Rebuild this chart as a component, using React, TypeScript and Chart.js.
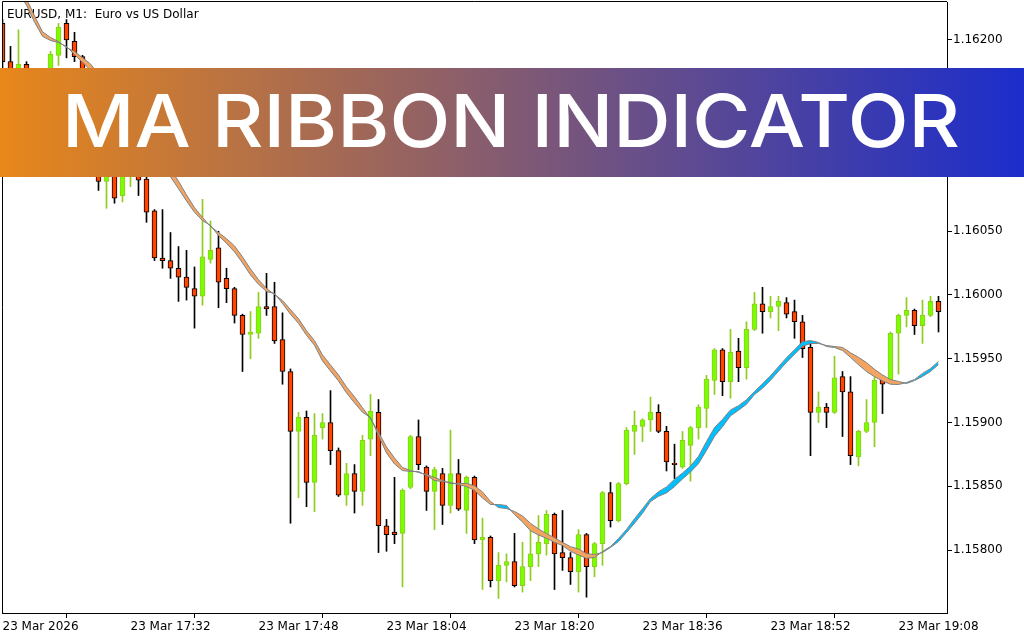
import React, { useEffect, useRef } from "react";
import { Chart, registerables } from "chart.js";

Chart.register(...registerables);

// ---- data (EURUSD M1, 23 Mar 2026 17:16 .. 19:13) ----
const chartTitle = "EURUSD, M1:  Euro vs US Dollar";
const bannerText = "MA RIBBON INDICATOR";

const xTickIndex = [0, 16, 32, 48, 64, 80, 96, 112];
const xTickLabels = [
  "23 Mar 2026",
  "23 Mar 17:32",
  "23 Mar 17:48",
  "23 Mar 18:04",
  "23 Mar 18:20",
  "23 Mar 18:36",
  "23 Mar 18:52",
  "23 Mar 19:08",
];
const yTicks = [1.158, 1.1585, 1.159, 1.1595, 1.16, 1.1605, 1.161, 1.1615, 1.162];

const openP = [
  1.16213, 1.16183, 1.16161, 1.16181, 1.16157, 1.16137, 1.16155, 1.16188, 1.16213, 1.16199,
  1.16187, 1.16165, 1.16129, 1.16089, 1.1611, 1.16078, 1.16094, 1.16114, 1.16091, 1.16066,
  1.16029, 1.16027, 1.16021, 1.16014, 1.16005, 1.15999, 1.16028, 1.16037, 1.16013, 1.16005,
  1.15984, 1.15969, 1.1597, 1.15991, 1.15991, 1.15965, 1.1594, 1.15893, 1.15904, 1.15853,
  1.15896, 1.159, 1.15878, 1.15843, 1.1586, 1.15846, 1.15887, 1.15908, 1.15819, 1.15814,
  1.15813, 1.15849, 1.15889, 1.15865, 1.15846, 1.1586, 1.15835, 1.1586, 1.15831, 1.15857,
  1.15808, 1.1581, 1.15776, 1.15788, 1.15791, 1.15772, 1.15787, 1.15797, 1.15805, 1.15828,
  1.15798, 1.15794, 1.15783, 1.15812, 1.15787, 1.15805, 1.15845, 1.15823, 1.15852, 1.15893,
  1.15897, 1.15902, 1.15908, 1.15893, 1.15868, 1.15865, 1.15882, 1.15896, 1.15911, 1.15933,
  1.15957, 1.15932, 1.15956, 1.15943, 1.15973, 1.15993, 1.15987, 1.15991, 1.15994, 1.15987,
  1.15979, 1.15959, 1.15908, 1.15912, 1.15908, 1.15936, 1.15924, 1.15873, 1.15893, 1.159,
  1.15933, 1.15933, 1.1597, 1.15984, 1.15988, 1.15976, 1.15984, 1.15995,
];
const highP = [
  1.16216, 1.16195, 1.16208, 1.16183, 1.16162, 1.16157, 1.16191, 1.16213, 1.16216, 1.16206,
  1.16188, 1.16169, 1.16133, 1.16118, 1.16115, 1.16114, 1.16122, 1.16118, 1.16098, 1.16067,
  1.16067, 1.16049, 1.16038, 1.16035, 1.16022, 1.16075, 1.16058, 1.1605, 1.16021, 1.16006,
  1.15985, 1.15987, 1.16002, 1.16017, 1.1601, 1.15986, 1.15942, 1.15908, 1.15909, 1.15907,
  1.15907, 1.15925, 1.1588, 1.15868, 1.15867, 1.1589, 1.15922, 1.15918, 1.15824, 1.15857,
  1.15848, 1.1589, 1.15902, 1.15866, 1.15865, 1.15864, 1.15894, 1.15871, 1.15858, 1.15858,
  1.15825, 1.15811, 1.15798, 1.15797, 1.15813, 1.15806, 1.15816, 1.15827, 1.15831, 1.15829,
  1.15831, 1.15798, 1.15816, 1.15813, 1.15806, 1.15846, 1.15853, 1.15853, 1.15896, 1.15909,
  1.15903, 1.1592, 1.15914, 1.15897, 1.15883, 1.15893, 1.15897, 1.15914, 1.15937, 1.15958,
  1.15958, 1.15973, 1.15966, 1.15979, 1.16002, 1.16006, 1.15999, 1.15999, 1.15998, 1.15996,
  1.15984, 1.15962, 1.15924, 1.15915, 1.15952, 1.1594, 1.15936, 1.15894, 1.15918, 1.15936,
  1.15937, 1.15971, 1.15985, 1.15998, 1.15989, 1.15996, 1.15999, 1.15999,
];
const lowP = [
  1.16178, 1.16157, 1.16155, 1.16153, 1.16133, 1.16133, 1.1615, 1.1618, 1.16186, 1.16183,
  1.16159, 1.16123, 1.16082, 1.16068, 1.16072, 1.16073, 1.16085, 1.16078, 1.16057, 1.16027,
  1.16021, 1.16013, 1.15995, 1.15996, 1.15974, 1.15992, 1.16025, 1.1599, 1.15994, 1.15978,
  1.1594, 1.1595, 1.15966, 1.15984, 1.15962, 1.1593, 1.15821, 1.15841, 1.15834, 1.1583,
  1.15887, 1.15867, 1.15842, 1.15835, 1.15829, 1.15835, 1.15874, 1.15798, 1.15799, 1.15805,
  1.15771, 1.15848, 1.15863, 1.15831, 1.15816, 1.1582, 1.15829, 1.15831, 1.15813, 1.15805,
  1.15769, 1.15771, 1.15762, 1.15775, 1.15771, 1.15767, 1.15776, 1.15787, 1.15796, 1.15769,
  1.15784, 1.15773, 1.15767, 1.15763, 1.15779, 1.15788, 1.15818, 1.15822, 1.15851, 1.15875,
  1.15885, 1.15893, 1.15892, 1.15862, 1.15856, 1.15864, 1.15854, 1.15887, 1.15896, 1.15922,
  1.15921, 1.15919, 1.15932, 1.15934, 1.15972, 1.1597, 1.15982, 1.15972, 1.15982, 1.15966,
  1.15951, 1.15874, 1.159, 1.15896, 1.15907, 1.15889, 1.15867, 1.15866, 1.15892, 1.15881,
  1.15907, 1.15932, 1.15938, 1.15975, 1.15969, 1.15962, 1.15983, 1.15971,
];
const closeP = [
  1.16183, 1.16165, 1.16181, 1.16162, 1.16137, 1.16153, 1.16189, 1.1621, 1.162, 1.16187,
  1.16165, 1.16129, 1.16089, 1.16114, 1.16076, 1.16106, 1.16114, 1.1609, 1.16065, 1.16029,
  1.16027, 1.16021, 1.16014, 1.16006, 1.15999, 1.1603, 1.16035, 1.1601, 1.16005, 1.15984,
  1.15969, 1.15971, 1.15991, 1.15989, 1.15964, 1.1594, 1.15893, 1.15904, 1.15853, 1.1589,
  1.159, 1.15878, 1.15843, 1.1586, 1.15846, 1.15886, 1.15909, 1.15819, 1.15812, 1.15812,
  1.15847, 1.15889, 1.15867, 1.15846, 1.15863, 1.15835, 1.1586, 1.15832, 1.15857, 1.15808,
  1.1581, 1.15776, 1.15788, 1.15791, 1.15772, 1.15787, 1.15797, 1.15806, 1.15828, 1.15797,
  1.15794, 1.15783, 1.15812, 1.15787, 1.15805, 1.15845, 1.15823, 1.15852, 1.15894, 1.15898,
  1.15902, 1.15908, 1.15893, 1.15869, 1.15867, 1.15886, 1.15896, 1.15912, 1.15934, 1.15957,
  1.15932, 1.15955, 1.15943, 1.15973, 1.15993, 1.15987, 1.15991, 1.15995, 1.15985, 1.15979,
  1.15958, 1.15908, 1.15912, 1.15908, 1.15935, 1.15924, 1.15874, 1.15893, 1.159, 1.15933,
  1.1593, 1.1597, 1.15984, 1.15988, 1.15976, 1.15984, 1.15995, 1.15987,
];
const maFast = [
  1.162564, 1.162462, 1.162368, 1.162274, 1.162141, 1.162029, 1.161996, 1.16198, 1.161949, 1.161886,
  1.161825, 1.161764, 1.161673, 1.161587, 1.161508, 1.161422, 1.161344, 1.161265, 1.161179, 1.1611,
  1.161014, 1.160928, 1.160834, 1.160738, 1.160649, 1.160584, 1.160545, 1.160466, 1.160406, 1.160338,
  1.160252, 1.160157, 1.160084, 1.160027, 1.160012, 1.159933, 1.159849, 1.159778, 1.159684, 1.159606,
  1.159483, 1.159404, 1.159326, 1.159232, 1.159154, 1.15908, 1.159039, 1.158898, 1.158761, 1.158675,
  1.158623, 1.158616, 1.158616, 1.158584, 1.158545, 1.158537, 1.15853, 1.158514, 1.158498, 1.158468,
  1.158408, 1.158357, 1.158357, 1.158349, 1.158278, 1.15822, 1.158151, 1.158118, 1.158092, 1.15806,
  1.158035, 1.15799, 1.157961, 1.157935, 1.157941, 1.157988, 1.158028, 1.15809, 1.158161, 1.158246,
  1.158324, 1.158404, 1.158457, 1.158495, 1.158555, 1.158604, 1.158659, 1.158735, 1.158851, 1.158961,
  1.159025, 1.159099, 1.159132, 1.159179, 1.159243, 1.159304, 1.159367, 1.159438, 1.159508, 1.159571,
  1.159634, 1.159643, 1.159628, 1.159596, 1.159588, 1.159565, 1.159511, 1.159453, 1.1594, 1.159359,
  1.159326, 1.1593, 1.159298, 1.159314, 1.159337, 1.159385, 1.159424, 1.159479,
];
const maSlow = [
  1.162612, 1.16251, 1.162416, 1.162322, 1.162189, 1.162065, 1.16202, 1.161988, 1.161941, 1.16191,
  1.161861, 1.161812, 1.161731, 1.161645, 1.161566, 1.16148, 1.161402, 1.161323, 1.161237, 1.161158,
  1.161072, 1.160986, 1.160892, 1.160785, 1.160685, 1.160608, 1.160537, 1.16049, 1.160442, 1.160385,
  1.160299, 1.160204, 1.16012, 1.160051, 1.160004, 1.159957, 1.159885, 1.159814, 1.15972, 1.159642,
  1.15953, 1.159451, 1.159373, 1.159279, 1.159201, 1.159116, 1.159031, 1.158922, 1.158808, 1.158722,
  1.158647, 1.158624, 1.158608, 1.158592, 1.158569, 1.158545, 1.158522, 1.158522, 1.158522, 1.158504,
  1.158455, 1.158381, 1.158333, 1.158325, 1.158302, 1.158267, 1.158209, 1.158165, 1.158128, 1.158096,
  1.158059, 1.158026, 1.158008, 1.157971, 1.157965, 1.15798, 1.15802, 1.158066, 1.158137, 1.15821,
  1.158288, 1.15838, 1.158421, 1.158448, 1.158497, 1.158557, 1.158612, 1.158677, 1.158781, 1.158891,
  1.158967, 1.159052, 1.159096, 1.159143, 1.159219, 1.159268, 1.159331, 1.159402, 1.159472, 1.159535,
  1.159598, 1.159619, 1.15962, 1.159604, 1.159596, 1.159589, 1.159547, 1.159511, 1.15947, 1.159417,
  1.159373, 1.159336, 1.159322, 1.159306, 1.159329, 1.159361, 1.1594, 1.159455,
];

// ---- styles ----
const UP_FILL = "#7CFC00";
const UP_LINE = "#8FCC1E";
const DOWN_FILL = "#FF4500";
const DOWN_LINE = "#000000";
const RIBBON_UP = "#00BFFF";
const RIBBON_DOWN = "#F4A460";
const RIBBON_EDGE = "#808080";
const AXIS_FONT = { family: "'DejaVu Sans', sans-serif", size: 12 };

const overlayPlugin = {
  id: "mtOverlay",
  beforeDatasetsDraw(chart: any) {
    const { ctx } = chart;
    ctx.save();
    ctx.fillStyle = "#000";
    ctx.font = "12px 'DejaVu Sans', sans-serif";
    ctx.textBaseline = "alphabetic";
    ctx.textAlign = "left";
    ctx.fillText(chartTitle, 7, 18);
    ctx.restore();
  },
  afterDraw(chart: any) {
    const { ctx, chartArea } = chart;
    const W = chart.width;
    ctx.save();
    // frame (left + top edges; right/bottom come from the axes)
    ctx.strokeStyle = "#000";
    ctx.lineWidth = 1;
    ctx.beginPath();
    ctx.moveTo(chartArea.left + 0.5, chartArea.bottom);
    ctx.lineTo(chartArea.left + 0.5, chartArea.top - 0.5);
    ctx.lineTo(chartArea.right, chartArea.top - 0.5);
    ctx.stroke();

    // banner
    const top = 68;
    const h = 109;
    const g = ctx.createLinearGradient(0, 0, W, 0);
    g.addColorStop(0, "#E8871A");
    g.addColorStop(1, "#1B2DCB");
    ctx.fillStyle = g;
    ctx.fillRect(0, top, W, h);

    ctx.font = "500 73px Inter, 'Open Sans', sans-serif";
    ctx.textBaseline = "alphabetic";
    ctx.textAlign = "left";
    const tw = ctx.measureText(bannerText).width;
    const target = 898;
    const sx = target / tw;
    ctx.translate(62, 147);
    ctx.scale(sx, 1);
    ctx.fillStyle = "#FFFFFF";
    ctx.fillText(bannerText, 0, 0);
    ctx.restore();
  },
};

export default function App() {
  const ref = useRef<HTMLCanvasElement | null>(null);

  useEffect(() => {
    if (!ref.current) return;
    const idx = openP.map((_, i) => i);
    const up = idx.map((i) => closeP[i] >= openP[i]);

    const chart = new Chart(ref.current, {
      type: "bar",
      data: {
        datasets: [
          {
            type: "line",
            label: "fast",
            data: idx.map((i) => ({ x: i, y: maFast[i] })),
            borderColor: RIBBON_EDGE,
            borderWidth: 1,
            pointRadius: 0,
            tension: 0,
            fill: false,
            order: 0,
          } as any,
          {
            type: "line",
            label: "slow",
            data: idx.map((i) => ({ x: i, y: maSlow[i] })),
            borderColor: RIBBON_EDGE,
            borderWidth: 1,
            pointRadius: 0,
            tension: 0,
            fill: { target: 0, above: RIBBON_DOWN, below: RIBBON_UP },
            order: 0,
          } as any,
          {
            type: "bar",
            label: "body",
            data: idx.map((i) => ({ x: i, y: [openP[i], closeP[i]] })),
            backgroundColor: up.map((u) => (u ? UP_FILL : DOWN_FILL)),
            borderColor: up.map((u) => (u ? UP_LINE : DOWN_LINE)),
            borderWidth: 1,
            borderSkipped: false,
            barThickness: 5,
            grouped: false,
            order: 1,
          } as any,
          {
            type: "bar",
            label: "wick",
            data: idx.map((i) => ({ x: i, y: [lowP[i], highP[i]] })),
            backgroundColor: up.map((u) => (u ? UP_LINE : DOWN_LINE)),
            borderWidth: 0,
            barThickness: 1,
            grouped: false,
            order: 2,
          } as any,
        ],
      },
      options: {
        animation: false,
        responsive: false,
        events: [],
        layout: { padding: { left: 2, top: 2, right: 0, bottom: 0 } },
        plugins: {
          legend: { display: false },
          tooltip: { enabled: false },
          title: { display: false },
        },
        scales: {
          x: {
            type: "linear",
            min: -0.0625,
            max: 118.0625,
            offset: false,
            afterBuildTicks: (s: any) => {
              s.ticks = xTickIndex.map((v) => ({ value: v }));
            },
            afterFit: (s: any) => {
              s.height = 27;
              s.paddingLeft = 0;
              s.paddingRight = 0;
            },
            ticks: {
              autoSkip: false,
              maxRotation: 0,
              minRotation: 0,
              align: "start",
              padding: 2,
              color: "#000",
              font: AXIS_FONT,
              callback: (v: any) => {
                const k = xTickIndex.indexOf(Number(v));
                return k >= 0 ? xTickLabels[k] : "";
              },
            },
            grid: { drawOnChartArea: false, drawTicks: true, tickLength: 5, color: "#000" },
            border: { display: true, color: "#000", width: 1 },
          },
          y: {
            type: "linear",
            position: "right",
            min: 1.1575059,
            max: 1.162298,
            afterBuildTicks: (s: any) => {
              s.ticks = yTicks.map((v) => ({ value: v }));
            },
            afterFit: (s: any) => {
              s.width = 77;
              s.paddingTop = 0;
              s.paddingBottom = 0;
            },
            ticks: {
              padding: 1,
              color: "#000",
              font: AXIS_FONT,
              callback: (v: any) => Number(v).toFixed(5),
            },
            grid: { drawOnChartArea: false, drawTicks: true, tickLength: 5, color: "#000" },
            border: { display: true, color: "#000", width: 1 },
          },
        },
      } as any,
      plugins: [overlayPlugin],
    });
    return () => chart.destroy();
  }, []);

  return (
    <div style={{ position: "absolute", left: 0, top: 0, width: 1024, height: 640, background: "#fff" }}>
      <canvas ref={ref} width={1024} height={640} style={{ display: "block" }} />
    </div>
  );
}
